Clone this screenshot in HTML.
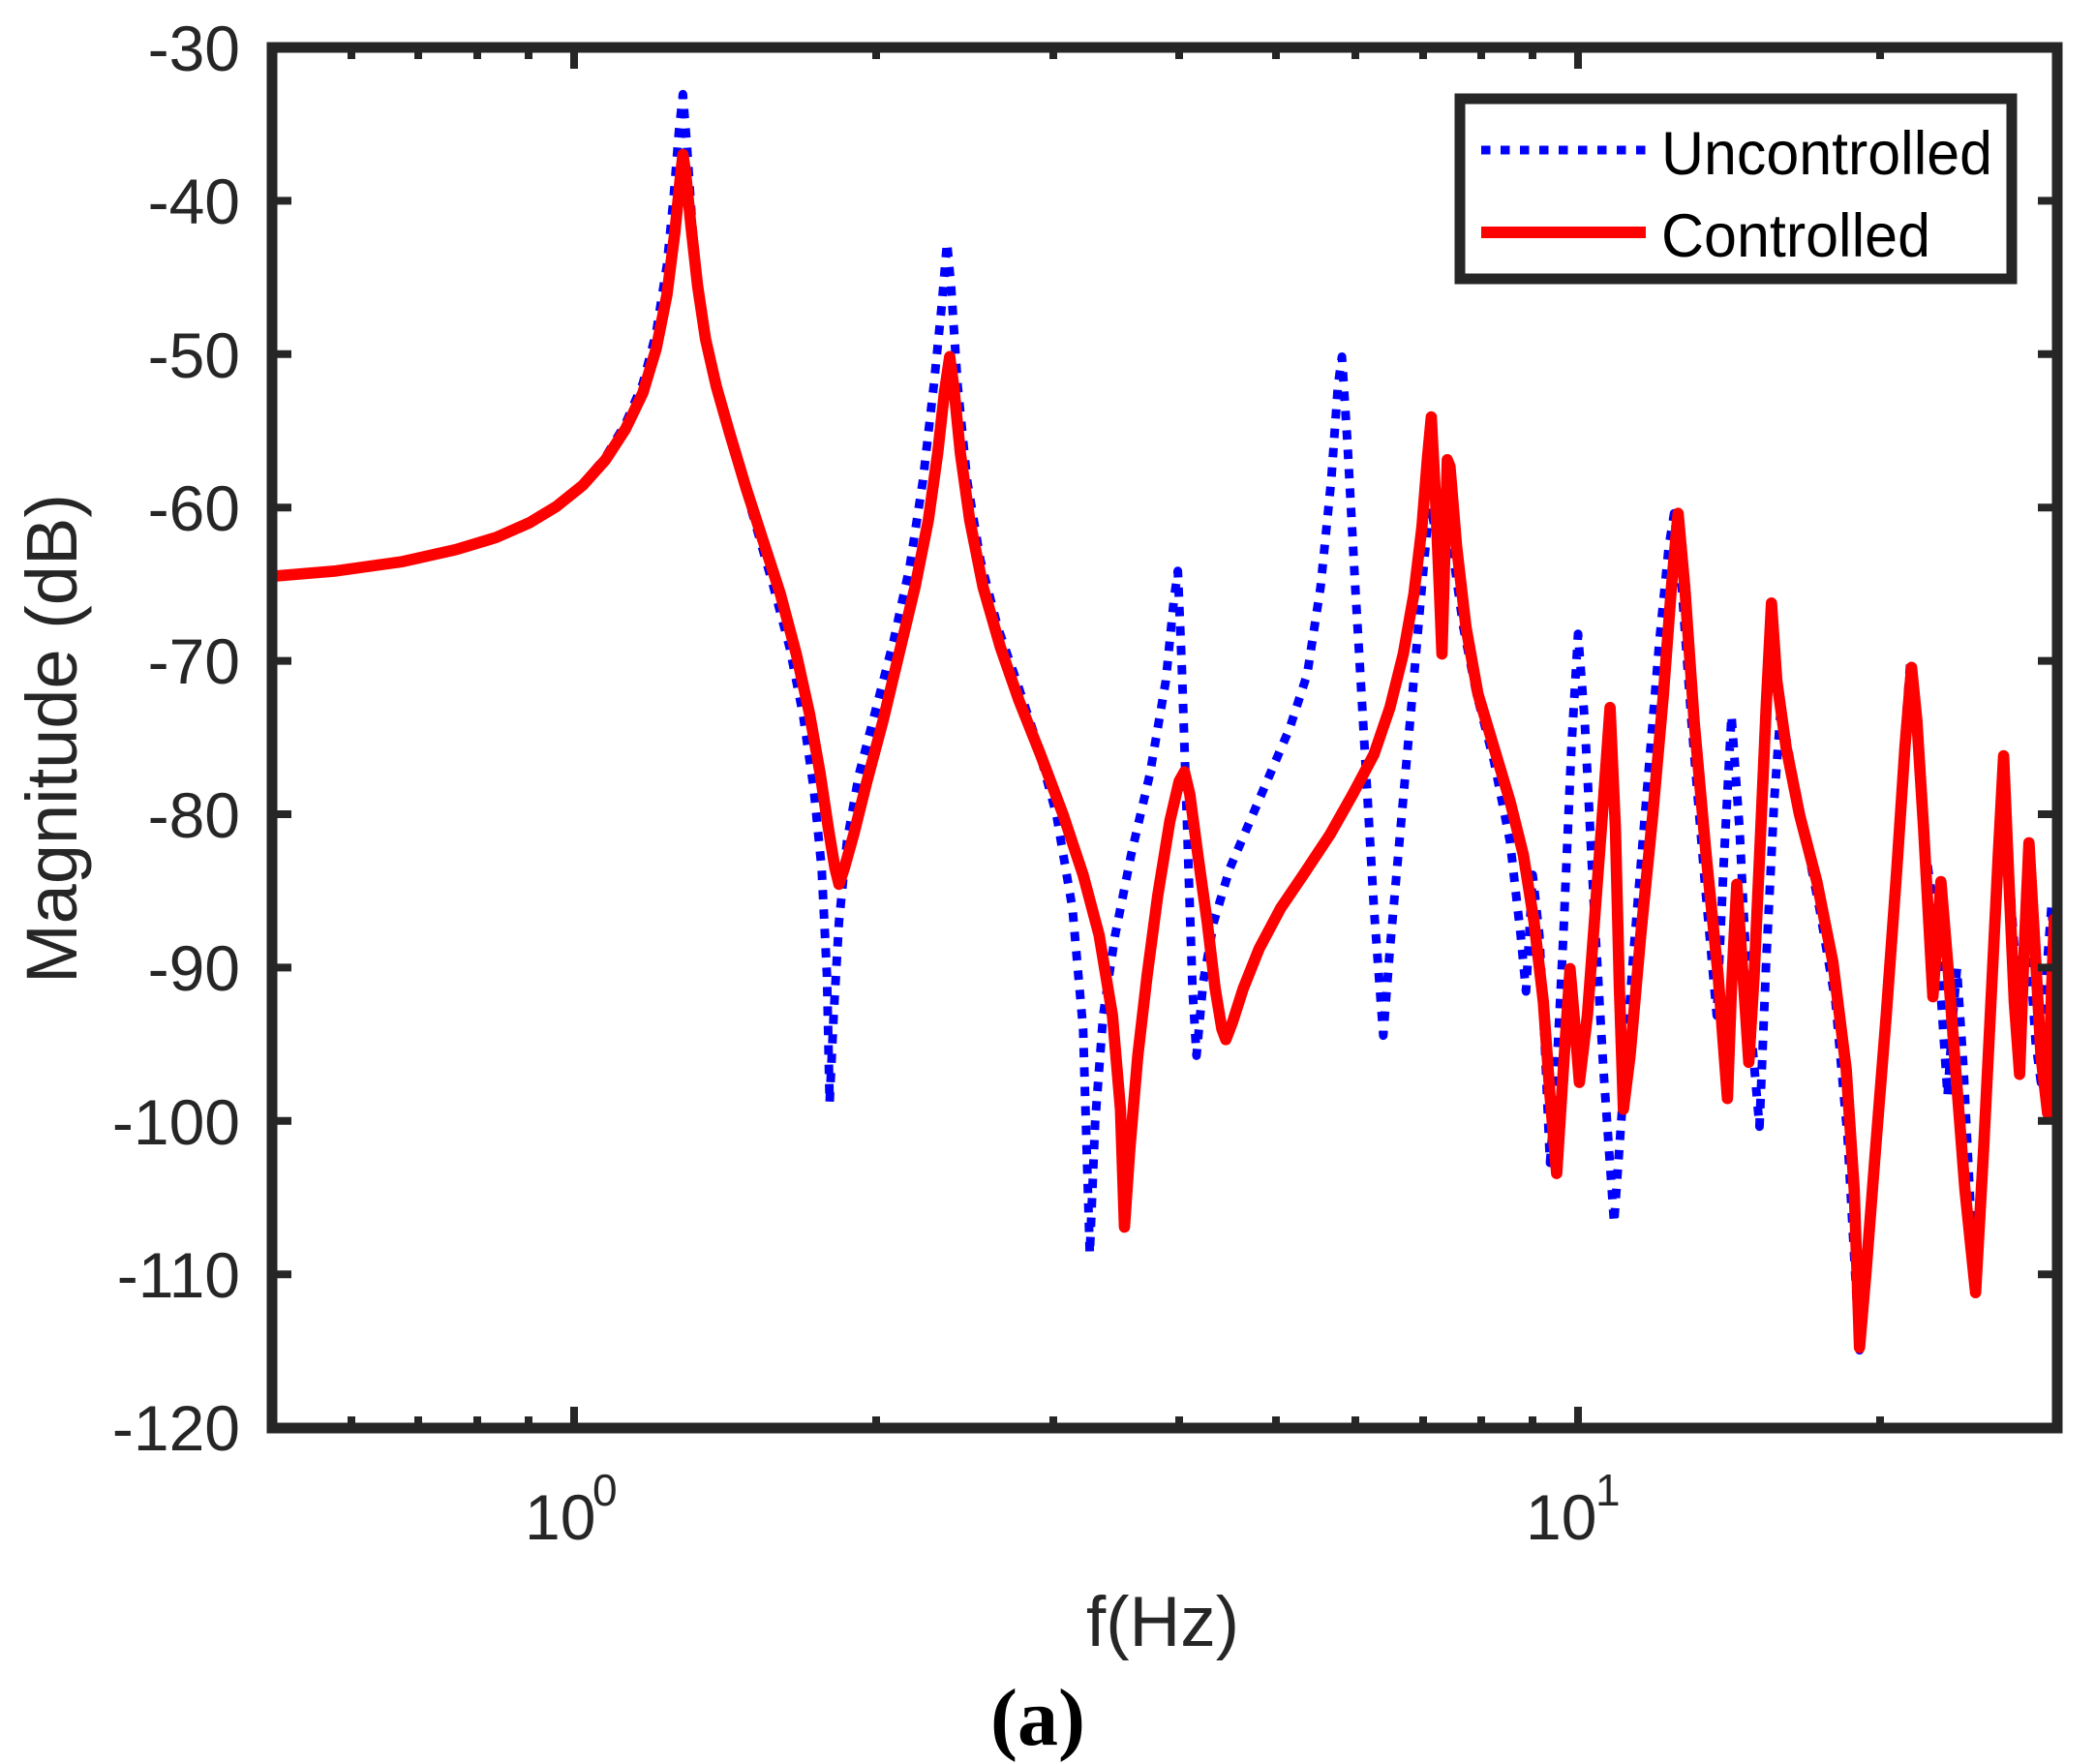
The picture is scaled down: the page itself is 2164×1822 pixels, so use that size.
<!DOCTYPE html>
<html><head><meta charset="utf-8"><style>
html,body{margin:0;padding:0;background:#fff;}
svg{display:block;}
text{font-family:"Liberation Sans",Arial,sans-serif;fill:#262626;}
</style></head><body>
<svg width="2164" height="1822" viewBox="0 0 2164 1822" xmlns="http://www.w3.org/2000/svg">
<rect width="2164" height="1822" fill="#fff"/>
<defs><clipPath id="c"><rect x="281" y="49" width="1844" height="1426"/></clipPath></defs>
<g clip-path="url(#c)">
<g transform="matrix(1.378,0,0,1.383,2.6,-2.2)" fill="none" stroke-linejoin="round">
<polyline stroke="#0000ff" stroke-width="6.5" stroke-dasharray="7,7.5" points="202,432 250,428 300,421 340,412 370,403 395,392 415,380 435,363 452,343 467,318 480,288 490,250 498,200 503,150 507,100 510,72 513,110 517,170 522,220 530,270 540,310 552,350 565,395 578,440 590,485 600,535 608,590 614,650 618,730 620,825 623,760 627,690 633,630 642,580 655,530 668,480 680,425 690,360 698,290 704,230 708,183 711,215 716,290 723,360 733,420 746,470 760,510 775,555 790,610 802,680 810,770 815,938 819,840 825,760 834,700 846,640 860,580 872,510 878,450 881,428 884,500 888,620 892,740 895,790 900,735 908,690 920,650 935,615 950,580 965,545 978,505 988,440 996,360 1001,290 1004,268 1008,330 1014,440 1021,560 1028,680 1035,775 1040,710 1048,620 1056,530 1063,450 1068,395 1071,380 1074,400 1077,410 1081,380 1084,390 1088,420 1095,470 1105,520 1118,570 1130,630 1138,700 1142,742 1147,655 1152,700 1156,780 1160,870 1164,820 1170,700 1176,560 1181,475 1186,540 1193,680 1200,800 1208,915 1214,830 1222,720 1232,600 1242,480 1249,410 1253,385 1258,430 1266,540 1276,660 1285,760 1290,650 1296,536 1302,620 1308,740 1317,843 1322,720 1328,600 1333,530 1340,570 1350,620 1362,680 1374,750 1383,850 1388,940 1392,1010 1397,950 1404,860 1412,760 1420,640 1426,550 1430,497 1436,560 1442,640 1450,700 1458,820 1462,760 1465,725 1470,800 1478,960 1485,860 1492,720 1500,568 1504,650 1510,740 1514,730 1520,720 1524,780 1528,810 1532,730 1536,677 1540,760"/>
<polyline stroke="#ff0000" stroke-width="8.5" points="202,432 250,428 300,421 340,412 370,403 395,392 415,380 435,364 452,345 467,322 480,295 490,262 498,222 504,175 508,135 510,117 512,130 516,170 521,215 527,255 535,290 545,325 557,365 570,405 583,445 595,490 605,535 613,580 619,620 624,650 627,662 631,650 638,625 648,585 660,540 672,490 684,440 694,390 701,340 706,295 710,268 713,290 718,340 725,390 735,440 748,485 762,525 778,565 795,610 810,655 822,700 832,760 838,830 841,918 845,860 851,790 858,730 866,670 875,615 882,585 886,578 890,595 896,640 903,690 909,740 914,770 917,778 922,765 930,740 942,710 958,680 975,655 995,625 1012,595 1028,565 1040,530 1050,490 1058,445 1064,395 1068,345 1071,313 1074,370 1077,440 1079,490 1081,420 1083,345 1085,350 1090,410 1097,470 1106,520 1118,560 1130,600 1140,640 1148,690 1155,750 1160,820 1165,878 1170,800 1175,725 1178,760 1182,810 1188,760 1194,680 1200,600 1205,530 1209,620 1212,740 1215,830 1220,790 1228,700 1237,610 1245,520 1251,440 1256,385 1261,440 1268,540 1277,640 1286,730 1293,822 1296,740 1300,662 1304,720 1309,795 1313,730 1318,620 1322,530 1326,452 1330,510 1337,560 1347,610 1360,660 1372,720 1382,800 1388,890 1392,1008 1397,950 1404,860 1412,760 1420,650 1426,560 1431,500 1435,540 1440,620 1447,746 1453,660 1458,720 1464,800 1471,890 1479,967 1485,860 1491,740 1496,640 1500,566 1504,660 1508,750 1512,804 1515,720 1519,631 1523,700 1528,790 1533,833 1536,740 1538,688 1540,745"/>
</g>
</g>
<rect x="281" y="49" width="1844" height="1426" fill="none" stroke="#262626" stroke-width="11"/>
<g stroke="#262626" stroke-width="8">
<path d="M281 207.4H301M281 365.8H301M281 524.2H301M281 682.6H301M281 841H301M281 999.4H301M281 1157.8H301M281 1316.2H301
M2125 207.4H2105M2125 365.8H2105M2125 524.2H2105M2125 682.6H2105M2125 841H2105M2125 999.4H2105M2125 1157.8H2105M2125 1316.2H2105"/>
<path d="M593 1475V1453M1630 1475V1453
M363 1475V1463M432 1475V1463M493 1475V1463M546 1475V1463M905 1475V1463M1088 1475V1463M1218 1475V1463M1318 1475V1463M1400 1475V1463M1470 1475V1463M1530 1475V1463M1583 1475V1463M1942 1475V1463
M593 49V71M1630 49V71
M363 49V61M432 49V61M493 49V61M546 49V61M905 49V61M1088 49V61M1218 49V61M1318 49V61M1400 49V61M1470 49V61M1530 49V61M1583 49V61M1942 49V61"/>
</g>
<g font-size="66" text-anchor="end">
<text x="248" y="73">-30</text>
<text x="248" y="231">-40</text>
<text x="248" y="390">-50</text>
<text x="248" y="548">-60</text>
<text x="248" y="706">-70</text>
<text x="248" y="865">-80</text>
<text x="248" y="1023">-90</text>
<text x="248" y="1182">-100</text>
<text x="248" y="1340">-110</text>
<text x="248" y="1498">-120</text>
</g>
<text x="542" y="1590" font-size="66">10</text>
<text x="612" y="1555" font-size="46">0</text>
<text x="1576" y="1590" font-size="66">10</text>
<text x="1648" y="1555" font-size="46">1</text>
<text x="1201" y="1700" font-size="73" text-anchor="middle">f(Hz)</text>
<text transform="translate(79,763) rotate(-90)" font-size="74" text-anchor="middle">Magnitude (dB)</text>
<text x="1072" y="1802" font-size="84" text-anchor="middle" font-weight="bold" style="font-family:'Liberation Serif',serif;fill:#000">(a)</text>
<rect x="1508" y="102" width="570" height="186" fill="#fff" stroke="#262626" stroke-width="11"/>
<line x1="1530" y1="155" x2="1700" y2="155" stroke="#0000ff" stroke-width="9" stroke-dasharray="9.5,10.5"/>
<line x1="1530" y1="240" x2="1700" y2="240" stroke="#ff0000" stroke-width="12"/>
<text x="1716" y="180" font-size="63" textLength="342" lengthAdjust="spacingAndGlyphs" style="fill:#000">Uncontrolled</text>
<text x="1716" y="265" font-size="63" textLength="278" lengthAdjust="spacingAndGlyphs" style="fill:#000">Controlled</text>
</svg>
</body></html>
